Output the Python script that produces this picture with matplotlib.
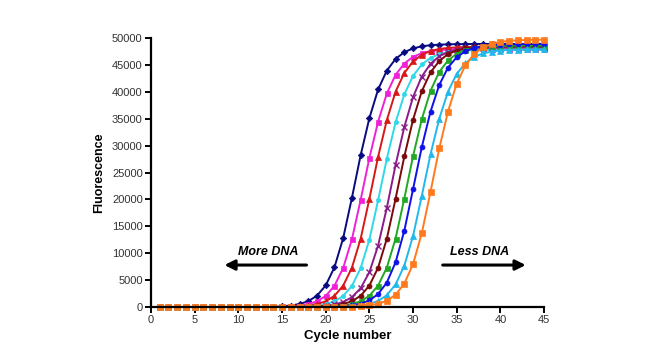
import matplotlib
matplotlib.use("Agg")
import matplotlib.pyplot as plt

plt.rcParams['font.family'] = ['Liberation Sans', 'DejaVu Sans']

cycles = list(range(1, 46))

navy = [0, 0, 0, 0, 0, 0, 0, 0, 0, 0, 0, 0, 0, 0,
        140, 280, 550, 1080, 2100, 4010, 7380, 12810, 20290, 28220,
        35110, 40440, 43960, 46110, 47380, 48070, 48460, 48660, 48770, 48830,
        48860, 48880, 48890, 48900, 48900, 48900, 48900, 48900, 48900, 48900, 48900]
magenta = [0, 0, 0, 0, 0, 0, 0, 0, 0, 0, 0, 0, 0, 0, 0,
           130, 270, 540, 1060, 2060, 3940, 7250, 12580, 19920, 27700,
           34460, 39700, 43150, 45260, 46510, 47180, 47570, 47760, 47880, 47930,
           47960, 47980, 48000, 48000, 48000, 48000, 48000, 48000, 48000, 48000]
red = [0, 0, 0, 0, 0, 0, 0, 0, 0, 0, 0, 0, 0, 0, 0, 0,
       140, 280, 540, 1060, 2080, 3970, 7310, 12680, 20090, 27930,
       34750, 40030, 43510, 45640, 46900, 47580, 47960, 48160, 48270, 48330,
       48360, 48380, 48390, 48400, 48400, 48400, 48400, 48400, 48400]
cyan = [0, 0, 0, 0, 0, 0, 0, 0, 0, 0, 0, 0, 0, 0, 0, 0, 0,
        130, 270, 540, 1050, 2060, 3920, 7220, 12520, 19840, 27580,
        34320, 39530, 42970, 45080, 46320, 46990, 47370, 47560, 47680, 47730,
        47760, 47780, 47790, 47800, 47800, 47800, 47800, 47800]
purple = [0, 0, 0, 0, 0, 0, 0, 0, 0, 0, 0, 0, 0, 0, 0, 0, 0, 0,
          120, 240, 470, 930, 1820, 3490, 6470, 11420, 18450, 26420,
          33470, 39030, 42840, 45210, 46610, 47380, 47800, 48030, 48160, 48220,
          48260, 48280, 48290, 48300, 48300, 48300, 48300]
maroon = [0, 0, 0, 0, 0, 0, 0, 0, 0, 0, 0, 0, 0, 0, 0, 0, 0, 0, 0,
          140, 280, 540, 1070, 2090, 3980, 7320, 12710, 20130, 27980,
          34820, 40110, 43600, 45740, 47000, 47680, 48060, 48260, 48370, 48430,
          48470, 48490, 48500, 48500, 48500, 48500]
green = [0, 0, 0, 0, 0, 0, 0, 0, 0, 0, 0, 0, 0, 0, 0, 0, 0, 0, 0, 0,
         140, 280, 540, 1070, 2090, 3990, 7340, 12730, 20170, 28040,
         34890, 40190, 43690, 45830, 47090, 47770, 48160, 48360, 48470, 48530,
         48570, 48590, 48600, 48600, 48600]
blue = [0, 0, 0, 0, 0, 0, 0, 0, 0, 0, 0, 0, 0, 0, 0, 0, 0, 0, 0, 0,
        80, 160, 320, 630, 1230, 2400, 4550, 8310, 14180, 21910,
        29720, 36330, 41270, 44500, 46440, 47550, 48170, 48510, 48690, 48790,
        48840, 48870, 48890, 48900, 48900]
lightblue = [0, 0, 0, 0, 0, 0, 0, 0, 0, 0, 0, 0, 0, 0, 0, 0, 0, 0, 0, 0, 0,
             70, 140, 290, 570, 1130, 2200, 4190, 7680, 13210, 20640,
             28400, 35010, 40020, 43340, 45340, 46500, 47130, 47490, 47680, 47780,
             47840, 47870, 47880, 47890]
orange = [0, 0, 0, 0, 0, 0, 0, 0, 0, 0, 0, 0, 0, 0, 0, 0, 0, 0, 0, 0, 0, 0,
          75, 150, 300, 600, 1170, 2280, 4350, 7970, 13710, 21420,
          29470, 36330, 41520, 44960, 47050, 48240, 48900, 49270, 49470, 49580,
          49640, 49670, 49680]

series = [
    (navy, '#0A0A80', 'D', 3.3),
    (magenta, '#F020D8', 's', 3.6),
    (red, '#D81818', '^', 4.0),
    (cyan, '#30D8E8', 'o', 3.0),
    (purple, '#8A1C8A', 'x', 3.8),
    (maroon, '#7A0A0A', 'o', 3.6),
    (green, '#22A822', 's', 3.6),
    (blue, '#1010E8', 'o', 3.6),
    (lightblue, '#22B8EA', '^', 4.0),
    (orange, '#FF7A1C', 's', 3.8),
]

x_ticks = [0, 5, 10, 15, 20, 25, 30, 35, 40, 45]
y_ticks = [0, 5000, 10000, 15000, 20000, 25000, 30000, 35000, 40000, 45000, 50000]

fig = plt.figure(figsize=(6.63, 3.56), dpi=100)
ax = fig.add_axes([0.2278, 0.1376, 0.5928, 0.7556])

for vals, col, mk, ms in series:
    ax.plot(cycles, vals, color=col, marker=mk, markersize=ms, linewidth=1.4,
            markeredgewidth=1.0 if mk == 'x' else 0.5, markeredgecolor=col,
            clip_on=False)

ax.set_xlim(0, 45)
ax.set_ylim(0, 50000)
ax.set_xticks(x_ticks)
ax.set_yticks(y_ticks)
ax.set_xticklabels([str(t) for t in x_ticks])
ax.set_yticklabels([str(t) for t in y_ticks])
for s in ['top', 'right']:
    ax.spines[s].set_visible(False)
for s in ['left', 'bottom']:
    ax.spines[s].set_linewidth(1.6)
    ax.spines[s].set_color('black')
ax.tick_params(axis='both', direction='out', length=4, width=1.4,
               labelsize=8, labelcolor='#333333', pad=2)

ax.set_xlabel('Cycle number', fontsize=9.5, fontweight='bold', labelpad=3)
ax.set_ylabel('Fluorescence', fontsize=9, fontweight='bold', labelpad=5)

ax.text(13.4, 10200, 'More DNA', fontsize=9, fontweight='bold', fontstyle='italic',
        ha='center', va='center')
ax.text(37.6, 10200, 'Less DNA', fontsize=9, fontweight='bold', fontstyle='italic',
        ha='center', va='center')
ax.annotate('', xy=(8.4, 7800), xytext=(17.8, 7800),
            arrowprops=dict(arrowstyle='-|>,head_length=0.6,head_width=0.3',
                            color='black', lw=2.2, shrinkA=0, shrinkB=0))
ax.annotate('', xy=(42.9, 7800), xytext=(33.4, 7800),
            arrowprops=dict(arrowstyle='-|>,head_length=0.6,head_width=0.3',
                            color='black', lw=2.2, shrinkA=0, shrinkB=0))

fig.savefig('out.png', dpi=100)
